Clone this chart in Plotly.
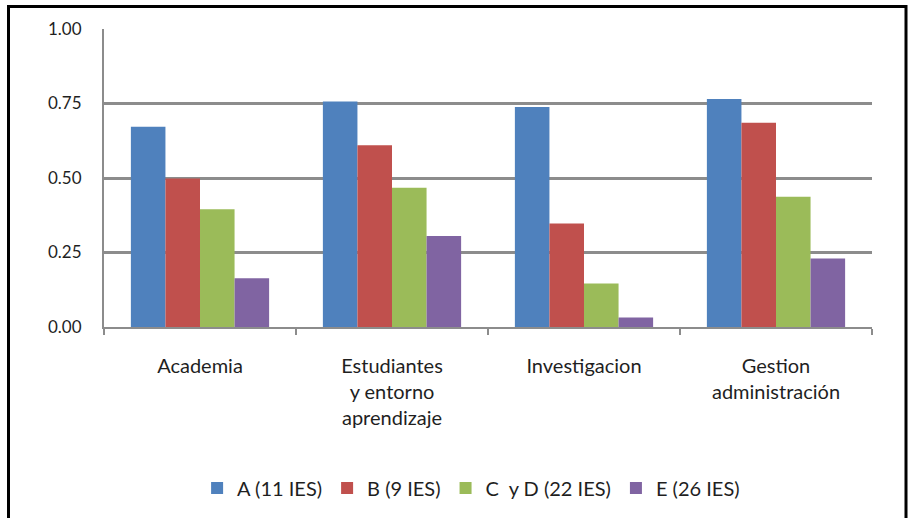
import plotly.graph_objects as go

# Categories and series values (share of institutions, 0-1 scale)
categories = [
    "Academia",
    "Estudiantes<br>y entorno<br>aprendizaje",
    "Investigacion",
    "Gestion<br>administración",
]
series_names = ["A (11 IES)", "B (9 IES)", "C\u00a0 y D (22 IES)", "E (26 IES)"]
values_a = [0.672, 0.757, 0.738, 0.765]
values_b = [0.498, 0.610, 0.347, 0.685]
values_cd = [0.395, 0.467, 0.146, 0.437]
values_e = [0.164, 0.305, 0.032, 0.230]
y_ticks = [0.0, 0.25, 0.5, 0.75, 1.0]
y_tick_labels = ["0.00", "0.25", "0.50", "0.75", "1.00"]

colors = ["#4F81BD", "#C0504D", "#9BBB59", "#8064A2"]
series_values = [values_a, values_b, values_cd, values_e]

fig = go.Figure()
for name, vals, col in zip(series_names, series_values, colors):
    fig.add_trace(go.Bar(
        x=categories, y=vals, name=name,
        marker=dict(color=col, line=dict(width=0)),
    ))

FONT = "Lato, 'Open Sans', sans-serif"
TEXT = "#1f1f1f"

fig.update_layout(
    width=912, height=518,
    margin=dict(l=104, r=40, t=29, b=190),
    paper_bgcolor="white", plot_bgcolor="white",
    barmode="group", bargap=0.28, bargroupgap=0,
    font=dict(family=FONT, color=TEXT),
    showlegend=True,
    legend=dict(
        orientation="h", x=0.478, y=-0.535,
        xanchor="center", yanchor="middle",
        font=dict(size=20, family=FONT, color=TEXT),
        itemwidth=30, tracegroupgap=0,
    ),
    xaxis=dict(
        type="category",
        showline=True, linecolor="#8c8c8c", linewidth=2,
        ticks="outside", tickson="boundaries", ticklen=6,
        tickcolor="#8c8c8c", tickwidth=2,
        tickfont=dict(size=20, family=FONT, color=TEXT),
        ticklabelstandoff=20,
        showgrid=False, zeroline=False,
    ),
    yaxis=dict(
        range=[0, 1.0], tickvals=y_ticks, ticktext=y_tick_labels,
        showline=True, linecolor="#8c8c8c", linewidth=2,
        showgrid=True, gridcolor="#8c8c8c", gridwidth=3,
        zeroline=False, ticks="",
        tickfont=dict(size=17, family=FONT, color=TEXT),
        ticklabelstandoff=17,
    ),
)

# Outer frame around the whole chart
fig.add_shape(
    type="rect", xref="paper", yref="paper",
    x0=(8.5 - 104) / 768, x1=(906 - 104) / 768,
    y0=(328 - 530) / 299, y1=(328 - 6.5) / 299,
    line=dict(color="black", width=3), fillcolor="rgba(0,0,0,0)",
    layer="above",
)

fig.write_html("out.html")
